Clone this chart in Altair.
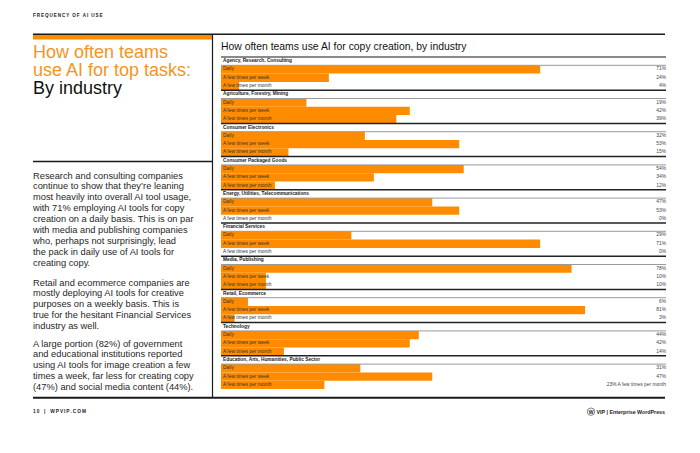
import altair as alt
import pandas as pd

# ---------------- data ----------------
industries = [
    "Agency, Research, Consulting",
    "Agriculture, Forestry, Mining",
    "Consumer Electronics",
    "Consumer Packaged Goods",
    "Energy, Utilities, Telecommunications",
    "Financial Services",
    "Media, Publishing",
    "Retail, Ecommerce",
    "Technology",
    "Education, Arts, Humanities, Public Sector",
]
frequencies = ["Daily", "A few times per week", "A few times per month"]
daily = [71, 19, 32, 54, 47, 29, 78, 6, 44, 31]
weekly = [24, 42, 53, 34, 53, 71, 10, 81, 42, 47]
monthly = [4, 39, 15, 12, 0, 0, 10, 3, 14, 23]

chart_title = "How often teams use AI for copy creation, by industry"
kicker = "FREQUENCY OF AI USE"
page_title_orange = ["How often teams", "use AI for top tasks:"]
page_title_black = "By industry"
para1 = [
    "Research and consulting companies",
    "continue to show that they\u2019re leaning",
    "most heavily into overall AI tool usage,",
    "with 71% employing AI tools for copy",
    "creation on a daily basis. This is on par",
    "with media and publishing companies",
    "who, perhaps not surprisingly, lead",
    "the pack in daily use of AI tools for",
    "creating copy.",
]
para2 = [
    "Retail and ecommerce companies are",
    "mostly deploying AI tools for creative",
    "purposes on a weekly basis. This is",
    "true for the hesitant Financial Services",
    "industry as well.",
]
para3 = [
    "A large portion (82%) of government",
    "and educational institutions reported",
    "using AI tools for image creation a few",
    "times a week, far less for creating copy",
    "(47%) and social media content (44%).",
]

# ---------------- tables ----------------
rows = []
for i, ind in enumerate(industries):
    for j, (freq, vals) in enumerate(zip(frequencies, [daily, weekly, monthly])):
        v = vals[i]
        slot = 4 * i + 1 + j
        rows.append(dict(industry=ind, freq=freq, value=v, zero=0, slot=slot,
                         slot_end=slot + 1, mid=slot + 0.5, label=f"{v}%"))
rows[-1]["label"] = rows[-1]["label"] + " " + frequencies[2]
df = pd.DataFrame(rows)

hdr = pd.DataFrame([dict(industry=ind, top=4 * i, under=4 * i + 1, mid=4 * i + 0.5)
                    for i, ind in enumerate(industries)])
one = pd.DataFrame({"k": [0]})

ORANGE = "#FF8C00"
TITLE_ORANGE = "#F7941D"
FONT = "Liberation Sans"
W = 445
H = 332

yscale = alt.Scale(domain=[0, 4 * len(industries)], reverse=True, nice=False, zero=False)
xscale = alt.Scale(domain=[0, 99], nice=False)


def Y(field):
    return alt.Y(field, type="quantitative", scale=yscale, axis=None)


bars = alt.Chart(df).mark_rect(color=ORANGE).encode(
    x=alt.X("zero:Q", scale=xscale, axis=None), x2="value:Q",
    y=Y("slot"), y2="slot_end:Q")

row_labels = alt.Chart(df).mark_text(align="left", baseline="middle", fontSize=4.9,
                                     font=FONT, color="#333333").encode(
    x=alt.value(2), y=Y("mid"), text="freq:N")

value_labels = alt.Chart(df).mark_text(align="right", baseline="middle", fontSize=4.9,
                                       font=FONT, color="#444444").encode(
    x=alt.value(W), y=Y("mid"), text="label:N")

header_text = alt.Chart(hdr).mark_text(align="left", baseline="middle", fontSize=4.8,
                                       fontWeight="bold", font=FONT, color="#222222").encode(
    x=alt.value(2), y=Y("mid"), text="industry:N")

sep_lines = alt.Chart(hdr[hdr["top"] > 0]).mark_rule(color="#222222", strokeWidth=1.5).encode(
    y=Y("top"), x=alt.value(0), x2=alt.value(W))
under_lines = alt.Chart(hdr).mark_rule(color="#9a9a9a", strokeWidth=1).encode(
    y=Y("under"), x=alt.value(0), x2=alt.value(W))
top_line = alt.Chart(hdr[hdr["top"] == 0]).mark_rule(color="#8a8a8a", strokeWidth=2).encode(
    y=Y("top"), x=alt.value(0), x2=alt.value(W))


# ---------------- page decorations (relative to plot origin at page 221,57) ----------------
def deco_text(text, x, y, **kw):
    return alt.Chart(one).mark_text(text=text, font=FONT, **kw).encode(
        x=alt.value(x), y=alt.value(y))


def hrule(x, x2, y, color="#1a1a1a", w=1.5):
    return alt.Chart(one).mark_rule(color=color, strokeWidth=w).encode(
        x=alt.value(x), x2=alt.value(x2), y=alt.value(y))


def vrule(x, y, y2, color="#1a1a1a", w=1.2):
    return alt.Chart(one).mark_rule(color=color, strokeWidth=w).encode(
        x=alt.value(x), y=alt.value(y), y2=alt.value(y2))


LX = -188  # page x = 33
spaced = lambda s: "\u2009".join(s)

decos = [
    deco_text(spaced(kicker), LX, -41, align="left", baseline="middle",
              fontSize=4.6, fontWeight="bold", color="#222222"),
    alt.Chart(one).mark_rect(color=ORANGE).encode(
        x=alt.value(LX), x2=alt.value(-9), y=alt.value(-22.2), y2=alt.value(-17.5)),
    hrule(LX, 444, -22.7, w=1.5),
    vrule(-8.5, -23, 341),
    deco_text(page_title_orange, LX, 0.5, align="left", baseline="alphabetic",
              fontSize=18, lineHeight=18.2, color=TITLE_ORANGE),
    deco_text(page_title_black, LX, 36.9, align="left", baseline="alphabetic",
              fontSize=18, color="#111111"),
    hrule(LX, -8.5, 104.5, w=1.5),
    deco_text(para1, LX, 121.5, align="left", baseline="alphabetic",
              fontSize=9.3, lineHeight=10.9, color="#1f1f1f"),
    deco_text(para2, LX, 228.5, align="left", baseline="alphabetic",
              fontSize=9.3, lineHeight=10.9, color="#1f1f1f"),
    deco_text(para3, LX, 289.5, align="left", baseline="alphabetic",
              fontSize=9.3, lineHeight=10.9, color="#1f1f1f"),
    hrule(LX, 444, 340.7, w=2),
    deco_text(chart_title, 0, -7, align="left", baseline="alphabetic",
              fontSize=10.4, color="#111111"),
    deco_text(spaced("10") + "\u2003|\u2003" + spaced("WPVIP.COM"), LX, 354.7,
              align="left", baseline="middle", fontSize=4.8, fontWeight="bold",
              color="#222222"),
    alt.Chart(one).mark_point(shape="circle", filled=False, size=55, color="#222222",
                              strokeWidth=0.8).encode(
        x=alt.value(370), y=alt.value(354.7)),
    deco_text("W", 370, 354.9, align="center", baseline="middle", fontSize=5,
              fontWeight="bold", color="#222222"),
    deco_text("VIP | Enterprise WordPress", 444, 354.7, align="right", baseline="middle",
              fontSize=5.3, fontWeight="bold", color="#222222"),
]

chart = alt.layer(
    bars, top_line, under_lines, sep_lines, row_labels, value_labels, header_text, *decos
).properties(
    width=W, height=H,
    autosize=alt.AutoSizeParams(type="none"),
    padding={"left": 213, "top": 49, "right": 26, "bottom": 55},
    background="white",
).configure_view(stroke=None)

chart.save("out.html", embed_options={"renderer": "svg", "actions": False})
